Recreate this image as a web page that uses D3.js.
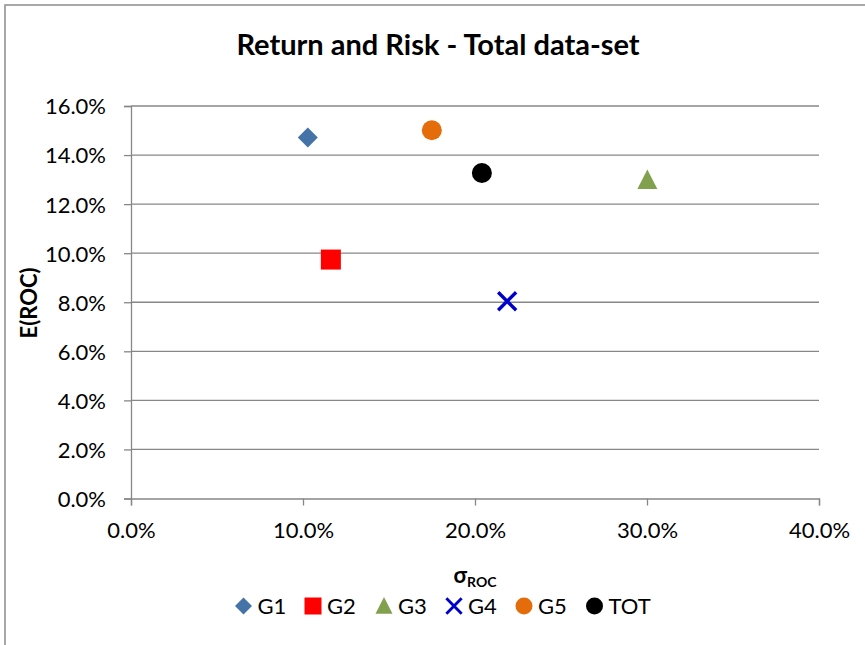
<!DOCTYPE html>
<html>
<head>
<meta charset="utf-8">
<title>Return and Risk</title>
<script src="https://cdn.jsdelivr.net/npm/d3@7"></script>
<style>
  body { margin: 0; background: #fff; }
  svg text { font-family: Lato, "Open Sans", sans-serif; fill: #000; }
</style>
</head>
<body>
<div id="vis"></div>
<script>
var w = 865, h = 645;

// data (sigma, E)
var groups  = ["G1", "G2", "G3", "G4", "G5", "TOT"];
var sigma   = [0.1028, 0.1162, 0.3002, 0.2187, 0.1749, 0.2040];
var ret     = [0.1472, 0.0974, 0.1298, 0.0804, 0.1501, 0.1327];
var colors  = ["#4572a7", "#ff0000", "#82a14f", "#0000cc", "#e46c0a", "#000000"];
var shapes  = ["diamond", "square", "triangle", "cross", "circle", "circle"];
var xTicks  = [0, 0.1, 0.2, 0.3, 0.4];
var yTicks  = [0, 0.02, 0.04, 0.06, 0.08, 0.10, 0.12, 0.14, 0.16];

var pts = groups.map(function(g, i) {
  return { name: g, x: sigma[i], y: ret[i], color: colors[i], shape: shapes[i] };
});

var svg = d3.select("#vis").append("svg")
  .attr("width", w).attr("height", h);

// outer frame (only top and left visible)
svg.append("rect")
  .attr("x", 5).attr("y", 5)
  .attr("width", w + 10).attr("height", h + 10)
  .attr("fill", "white")
  .attr("stroke", "#8c8c8c")
  .attr("stroke-width", 1.5);

var x = d3.scaleLinear().domain([0, 0.4]).range([131, 819]);
var y = d3.scaleLinear().domain([0, 0.16]).range([498.5, 106]);
var pct = d3.format(".1%");

// horizontal gridlines
svg.append("g").selectAll("line")
  .data(yTicks.filter(function(d) { return d > 0; }))
  .enter().append("line")
  .attr("x1", x(0)).attr("x2", x(0.4))
  .attr("y1", function(d) { return y(d); })
  .attr("y2", function(d) { return y(d); })
  .attr("stroke", "#878787").attr("stroke-width", 1.3);

var yAxis = svg.append("g")
  .attr("transform", "translate(" + x(0) + ",0)")
  .call(d3.axisLeft(y).tickValues(yTicks).tickFormat(pct).tickSizeOuter(0).tickSize(7).tickPadding(18));

var xAxis = svg.append("g")
  .attr("transform", "translate(0," + y(0) + ")")
  .call(d3.axisBottom(x).tickValues(xTicks).tickFormat(pct).tickSizeOuter(0).tickSize(7).tickPadding(12));

[xAxis, yAxis].forEach(function(a) {
  a.select(".domain").attr("stroke", "#878787").attr("stroke-width", 1.3);
  a.selectAll(".tick line").attr("stroke", "#878787").attr("stroke-width", 1.3);
  a.selectAll(".tick text").attr("font-size", 22).attr("font-family", "Lato, sans-serif").attr("fill", "#000");
});
yAxis.selectAll(".tick text").attr("dy", "0.36em");
xAxis.selectAll(".tick text").attr("dy", "0.95em");

// marker drawing
function marker(sel, size) {
  sel.each(function(d) {
    var g = d3.select(this);
    var r = size / 2;
    if (d.shape === "cross") {
      g.append("path")
        .attr("d", "M" + (-r * 0.9) + "," + (-r * 0.9) + "L" + (r * 0.9) + "," + (r * 0.9) +
                   "M" + (r * 0.9) + "," + (-r * 0.9) + "L" + (-r * 0.9) + "," + (r * 0.9))
        .attr("stroke", d.color).attr("stroke-width", size * 0.17).attr("fill", "none");
    } else if (d.shape === "circle") {
      g.append("circle").attr("r", r).attr("fill", d.color);
    } else if (d.shape === "square") {
      g.append("rect").attr("x", -r).attr("y", -r).attr("width", size).attr("height", size).attr("fill", d.color);
    } else if (d.shape === "diamond") {
      g.append("path").attr("d", "M0," + (-r) + "L" + r + ",0L0," + r + "L" + (-r) + ",0Z").attr("fill", d.color);
    } else if (d.shape === "triangle") {
      g.append("path").attr("d", "M0," + (-r * 1.05) + "L" + r + "," + (r * 0.9) + "L" + (-r) + "," + (r * 0.9) + "Z").attr("fill", d.color);
    }
  });
}

svg.append("g").selectAll("g")
  .data(pts).enter().append("g")
  .attr("transform", function(d) { return "translate(" + x(d.x) + "," + y(d.y) + ")"; })
  .call(marker, 20);

// title
svg.append("text")
  .attr("x", 438).attr("y", 55)
  .attr("text-anchor", "middle")
  .attr("font-size", 29).attr("font-weight", "bold")
  .text("Return and Risk - Total data-set");

// y axis title
svg.append("text")
  .attr("transform", "translate(37,303) rotate(-90)")
  .attr("text-anchor", "middle")
  .attr("font-size", 22).attr("font-weight", "bold")
  .text("E(ROC)");

// x axis title
var xt = svg.append("text")
  .attr("x", 475).attr("y", 583)
  .attr("text-anchor", "middle")
  .attr("font-weight", "bold");
xt.append("tspan").attr("font-size", 22).text("σ");
xt.append("tspan").attr("font-size", 14).attr("dy", 4).text("ROC");

// legend
var legX = [243.5, 313, 384, 454, 524, 594.5];
var leg = svg.append("g").selectAll("g")
  .data(pts).enter().append("g")
  .attr("transform", function(d, i) { return "translate(" + legX[i] + ",606)"; });
leg.call(marker, 17);
leg.append("text")
  .attr("x", 14).attr("dy", "0.36em")
  .attr("font-size", 22)
  .text(function(d) { return d.name; });
</script>
</body>
</html>
